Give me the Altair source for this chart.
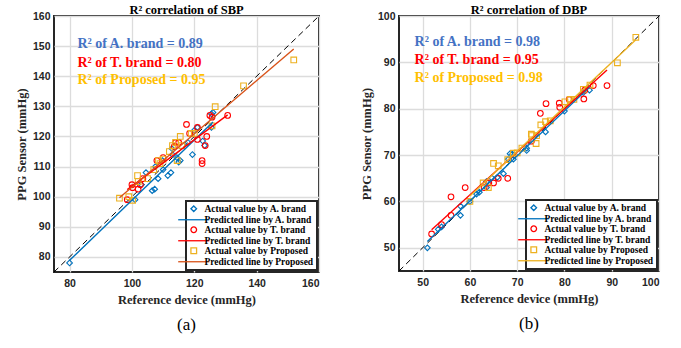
import altair as alt
import pandas as pd

# ---------------- data ----------------
# SBP panel
sbp_a_ref = [80, 101, 103, 104.5, 106.5, 107.3, 107.5, 108.4, 109.8, 110, 111.5, 112.5, 112.8, 113, 114.4, 115, 115.5, 118, 119.4, 120, 121, 122.7, 123.3, 125.5, 125.5, 126]
sbp_a_ppg = [78, 99, 104, 108, 102, 102.5, 110, 106, 112, 109, 107, 108, 116, 114, 113, 111.5, 112, 118, 114, 122, 123, 118.5, 117, 123, 127.5, 128]
sbp_t_ref = [98.5, 100, 100.2, 102, 102.7, 103.5, 108, 110, 113.6, 114, 115, 117.5, 118.5, 121, 121, 122.5, 122.5, 123.5, 124, 125, 125.7, 130.7]
sbp_t_ppg = [99, 104, 103, 102.5, 104, 106, 112, 113, 116.7, 118, 118, 124, 121, 123, 119, 112, 111, 117, 120, 127, 126.4, 127]
sbp_p_ref = [96, 99, 100.2, 101.8, 102, 105, 107, 108.5, 109, 110, 112, 113, 114, 114.5, 115.5, 116, 119, 120, 125.7, 126.7, 135.8, 151.9]
sbp_p_ppg = [99.5, 100, 98.8, 107, 105, 106, 109, 112, 111, 112.5, 115, 117, 118, 112, 120, 117, 121, 121, 123.5, 129.9, 136.8, 145.4]

# DBP panel
dbp_a_ref = [51, 53.3, 54, 58, 58, 60, 61.4, 62, 63.5, 63.5, 64.6, 65.8, 67.1, 68.1, 68.5, 69, 69.2, 72, 72, 76, 80, 84, 85.3]
dbp_a_ppg = [50, 54, 54.5, 57, 59, 60, 61.6, 62, 63, 64.3, 65.1, 65.2, 66, 69.1, 70.3, 70.2, 69.1, 71, 71.5, 75, 79.5, 83.5, 84]
dbp_t_ref = [51.9, 54, 56, 56, 59, 63, 64, 65, 66, 68, 73, 74.9, 76.1, 78.9, 79, 81, 84.1, 84.3, 86.1, 89]
dbp_t_ppg = [53, 55, 57, 61, 63, 63, 64, 64, 65, 65, 73, 79, 81.1, 81.2, 80.3, 82, 82.1, 84, 85, 85]
dbp_p_ref = [60, 62.8, 63.9, 65, 66, 68, 69.2, 70, 71, 73, 73.1, 74, 74.1, 75, 76, 77, 80.1, 81.2, 82, 84, 85.4, 91.2, 95.1]
dbp_p_ppg = [60, 64, 63, 68.2, 67.7, 69, 70.4, 70.5, 71.5, 74.5, 74.2, 72.5, 74.2, 76.5, 77.2, 77.4, 81.5, 82, 82, 84.2, 85.1, 89.9, 95.4]

brands = ["A. brand", "T. brand", "Proposed"]
entries = [
    "Actual value by A. brand", "Predicted line by A. brand",
    "Actual value by T. brand", "Predicted line by T. brand",
    "Actual value by Proposed", "Predicted line by Proposed",
]
sbp_colors = ["#0072BD", "#0072BD", "#FF0000", "#FF0000", "#EDB120", "#D95319"]
dbp_colors = ["#0072BD", "#0072BD", "#FF0000", "#FF0000", "#EDB120", "#EDB120"]

sbp_r2 = ["R² of A. brand = 0.89", "R² of T. brand = 0.80", "R² of Proposed = 0.95"]
dbp_r2 = ["R² of A. brand = 0.98", "R² of T. brand = 0.95", "R² of Proposed = 0.98"]
r2_colors = ["#4472C4", "#FF0000", "#FFC000"]

sbp_domain = [75, 160]
dbp_domain = [45, 100]
sbp_ticks = [80, 90, 100, 110, 120, 130, 140, 150, 160]
sbp_xticks = [80, 100, 120, 140, 160]
dbp_ticks = [50, 60, 70, 80, 90, 100]
captions = ["(a)", "(b)"]

SERIF = "Liberation Serif"
SANS = "Liberation Sans"
LINE_SYM = "M-5.5,0H5.5"
shapes = ["diamond", LINE_SYM, "circle", LINE_SYM, "square", LINE_SYM]
sizes = [32, 32, 40, 32, 30, 32]


def make_df(groups):
    rows = []
    for b, xs, ys in groups:
        for x, y in zip(xs, ys):
            rows.append({"ref": x, "ppg": y, "brand": b})
    return pd.DataFrame(rows)


def panel(df, colors, domain, yticks, xticks, title, r2_texts, ann_x, ann_y, w, h, title_offset, caption):
    xs = alt.Scale(domain=domain, nice=False, zero=False)
    ys = alt.Scale(domain=domain, nice=False, zero=False)
    xaxis = alt.Axis(values=xticks, title="Reference device (mmHg)")
    yaxis = alt.Axis(values=yticks, title="PPG Sensor (mmHg)")
    base = alt.Chart(df)

    diag = alt.Chart(pd.DataFrame({"ref": domain, "ppg": domain})).mark_line(
        color="black", strokeDash=[6, 4], strokeWidth=1
    ).encode(x=alt.X("ref:Q", scale=xs, axis=xaxis), y=alt.Y("ppg:Q", scale=ys, axis=yaxis))

    leg = alt.Legend(title=None, orient="bottom-right", offset=2)
    pts = base.transform_calculate(entry="'Actual value by ' + datum.brand").mark_point(
        filled=False, strokeWidth=1.1, opacity=1
    ).encode(
        x=alt.X("ref:Q", scale=xs, axis=xaxis),
        y=alt.Y("ppg:Q", scale=ys, axis=yaxis),
        color=alt.Color("entry:N", scale=alt.Scale(domain=entries, range=colors), legend=leg, sort=entries),
        shape=alt.Shape("entry:N", scale=alt.Scale(domain=entries, range=shapes), legend=leg, sort=entries),
        size=alt.Size("entry:N", scale=alt.Scale(domain=entries, range=sizes), legend=leg, sort=entries),
    )

    lines = base.transform_regression("ref", "ppg", groupby=["brand"]).transform_calculate(
        entry="'Predicted line by ' + datum.brand"
    ).mark_line(strokeWidth=1.4).encode(
        x=alt.X("ref:Q", scale=xs, axis=xaxis),
        y=alt.Y("ppg:Q", scale=ys, axis=yaxis),
        color=alt.Color("entry:N", scale=alt.Scale(domain=entries, range=colors), legend=leg, sort=entries),
    )

    texts = []
    for i in range(3):
        texts.append(
            alt.Chart(pd.DataFrame({"ref": [ann_x], "ppg": [ann_y[i]], "t": [r2_texts[i]]})).mark_text(
                align="left", baseline="middle", font=SERIF, fontWeight="bold", fontSize=14, color=r2_colors[i]
            ).encode(x=alt.X("ref:Q", scale=xs, axis=xaxis), y=alt.Y("ppg:Q", scale=ys, axis=yaxis), text="t:N")
        )

    cap = alt.Chart(pd.DataFrame({"t": [caption]})).mark_text(
        font=SERIF, fontSize=17, color="black", align="center", baseline="middle"
    ).encode(x=alt.value(w / 2), y=alt.value(h + 53), text="t:N")

    layer = alt.layer(diag, pts, lines, *texts, cap).properties(
        width=w, height=h,
        title=alt.TitleParams(title, font=SERIF, fontWeight="bold", fontSize=12.5, color="black",
                              offset=title_offset, anchor="middle"),
    )
    return layer


sbp_df = make_df([(brands[0], sbp_a_ref, sbp_a_ppg), (brands[1], sbp_t_ref, sbp_t_ppg), (brands[2], sbp_p_ref, sbp_p_ppg)])
dbp_df = make_df([(brands[0], dbp_a_ref, dbp_a_ppg), (brands[1], dbp_t_ref, dbp_t_ppg), (brands[2], dbp_p_ref, dbp_p_ppg)])

left = panel(sbp_df, sbp_colors, sbp_domain, sbp_ticks, sbp_xticks, "R² correlation of SBP",
             sbp_r2, 82.5, [150.7, 144.4, 138.8], 265, 256, -5, captions[0])
right = panel(dbp_df, dbp_colors, dbp_domain, dbp_ticks, dbp_ticks, "R² correlation of DBP",
              dbp_r2, 48.3, [94.3, 90.6, 86.7], 260, 255, -5, captions[1])

chart = alt.hconcat(left, right, spacing=37).resolve_scale(
    color="independent", shape="independent", size="independent"
).properties(
    padding={"left": 14, "top": 2, "right": 5, "bottom": 5}
).configure_view(
    stroke="#262626", strokeWidth=2
).configure_axis(
    domain=False, ticks=False, grid=True, gridColor="#dcdcdc", gridWidth=1.3,
    labelFont=SANS, labelFontWeight="bold", labelFontSize=10.5, labelColor="#262626",
    titleFont=SERIF, titleFontWeight="bold", titleFontSize=12.5, titleColor="#262626",
).configure_axisX(
    labelPadding=6, titlePadding=5
).configure_axisY(
    labelPadding=4, titlePadding=4
).configure_legend(
    fillColor="white", strokeColor="#262626", strokeWidth=2,
    padding=3, labelFont=SERIF, labelFontWeight="bold", labelFontSize=9.5, labelColor="black",
    labelLimit=220, rowPadding=-3.5, symbolStrokeWidth=1.3, labelOffset=6,
)

chart.save("out.html", embed_options={"renderer": "svg", "actions": False})
